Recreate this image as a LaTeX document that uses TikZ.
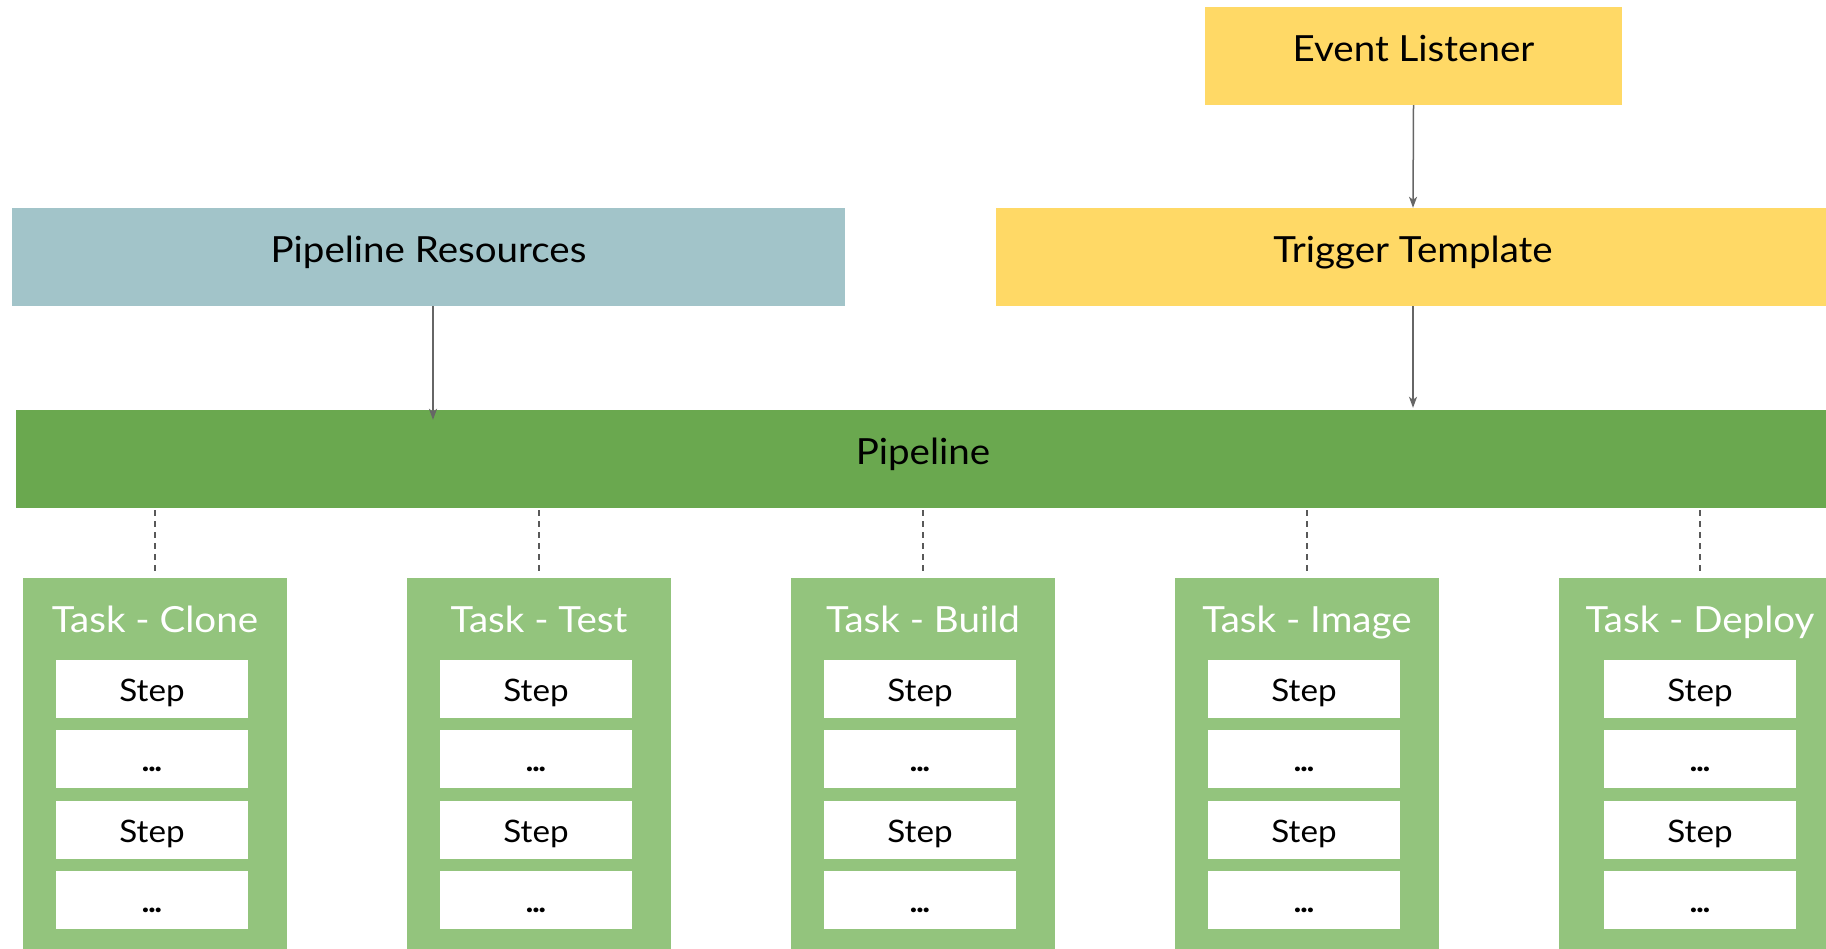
\documentclass[tikz,border=0pt]{standalone}
\usepackage{fontspec}
\setmainfont{Lato}[FakeStretch=1.07]
\usetikzlibrary{arrows.meta}
\definecolor{ylw}{HTML}{FFD966}
\definecolor{res}{HTML}{A2C4C9}
\definecolor{pipe}{HTML}{6AA84F}
\definecolor{taskc}{HTML}{93C47D}
\definecolor{conn}{HTML}{666666}
\definecolor{dashc}{HTML}{595959}
\newcommand{\stepdots}{\textbf{.\kern-1.5pt.\kern-1.5pt.}}
\begin{document}
\begin{tikzpicture}[x=1pt,y=-1pt,
  bigbox/.style={rectangle, inner sep=0pt, minimum height=98pt, text height=54pt, text depth=44pt, font=\fontsize{36}{40}\selectfont, text=black},
  taskbox/.style={rectangle, inner sep=0pt, fill=taskc, minimum height=382pt, anchor=north},
  tasktitle/.style={inner sep=0pt, anchor=base, text=white, font=\fontsize{36}{40}\selectfont},
  stepbox/.style={rectangle, fill=white, inner sep=0pt, minimum width=192pt, minimum height=58pt, text height=41pt, text depth=17pt, font=\fontsize{31}{36}\selectfont, text=black},
  arr/.style={draw=conn, line width=1.5pt, -{Stealth[length=11pt,width=8pt,inset=3pt]}},
  dashline/.style={draw=dashc, line width=1.8pt, dash pattern=on 6pt off 5pt}
]
\useasboundingbox (0,0) rectangle (1826,948);
\clip (0,0) rectangle (1826,948);
\fill[white] (0,0) rectangle (1826,948);

\node[bigbox, fill=ylw, minimum width=417pt] (el) at (1413.5,56) {Event Listener};
\node[bigbox, fill=ylw, minimum width=834pt] (tt) at (1413,257) {Trigger Template};
\node[bigbox, fill=res, minimum width=833pt] (pr) at (428.5,257) {Pipeline Resources};
\node[bigbox, fill=pipe, minimum width=1814pt] (pl) at (923,459) {Pipeline};

\draw[arr] (el.south) -- (tt.north);
\draw[arr] ([xshift=4.5pt]pr.south) -- ([xshift=4.5pt,yshift=-10pt]pr.south |- pl.north);
\draw[arr, shorten >=2pt] (tt.south) -- (tt.south |- pl.north);

\foreach \n/\c/\w/\s/\t in {1/155/264/152/Clone, 2/539/264/536/Test, 3/923/264/920/Build, 4/1307/264/1304/Image, 5/1700/282/1700/Deploy}{
  \node[taskbox, minimum width=\w pt] (t\n) at (\c,578) {};
  \node[tasktitle] (t\n t) at (\c,632) {Task - \t};
  \node[stepbox] (t\n s1) at (\s,689) {Step};
  \node[stepbox] (t\n s2) at (\s,759) {\stepdots};
  \node[stepbox] (t\n s3) at (\s,830) {Step};
  \node[stepbox] (t\n s4) at (\s,900) {\stepdots};
  \draw[dashline, shorten <=2pt, shorten >=5pt] (t\n.north |- pl.south) -- (t\n.north);
}
\end{tikzpicture}
\end{document}
